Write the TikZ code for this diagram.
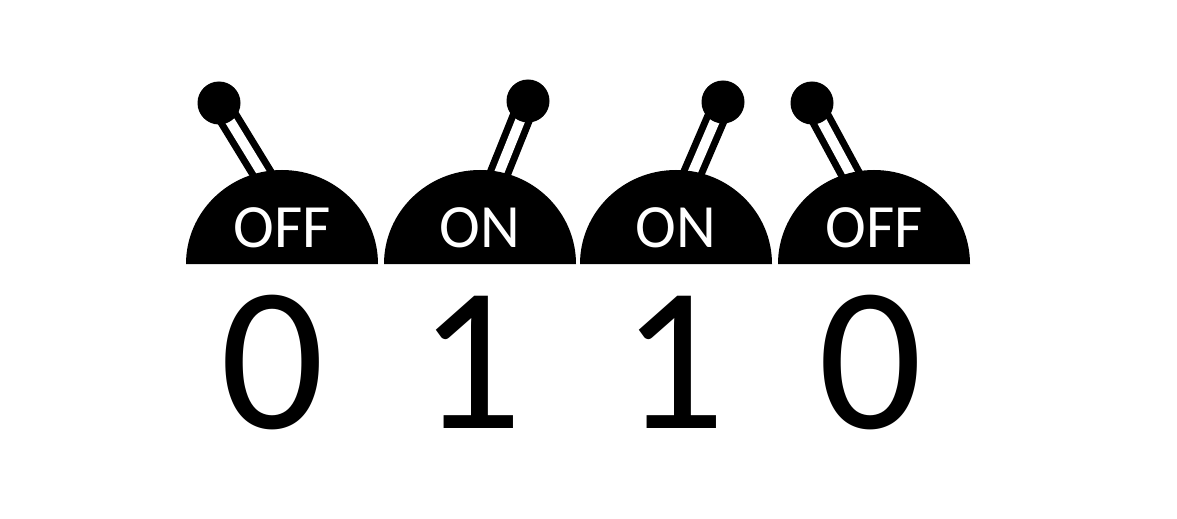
\documentclass[tikz,border=0pt]{standalone}
\usepackage{fontspec}
\setmainfont{Carlito}
\usepackage{tikz}
\usetikzlibrary{calc}

\tikzset{
  lever/.style={line width=0.48cm,black},
  leverslot/.style={line width=0.2cm,white},
  statelabel/.style={text=white,anchor=base,inner sep=0pt,font=\fontsize{35}{40}\selectfont},
  bitlabel/.style={text=black,anchor=base,inner sep=0pt,font=\fontsize{117}{130}\selectfont}
}

\begin{document}
\begin{tikzpicture}[x=0.02cm,y=0.02cm]
\useasboundingbox (0,0) rectangle (1177,518);
%% dome centre / ball / lever foot / state / digit x / digit
\foreach \cx/\bx/\by/\fx/\fy/\state/\dx/\bit [count=\i] in
  {282/219/415/271/330/OFF/273/0, 480/528/417/493/330/ON/471/1,
   676/723/416/686/330/ON/674/1, 874/812/415/858/330/OFF/871/0}
{
  \coordinate (ball\i) at (\bx,\by);
  \coordinate (foot\i) at (\fx,\fy);
  \draw[lever] (foot\i) -- (ball\i);
  \draw[leverslot] (foot\i) -- (ball\i);
  \fill[black] (ball\i) circle (21.5);
  \fill[black] (\cx-96,254) arc[start angle=180,end angle=0,x radius=96,y radius=94] -- cycle;
  \node[statelabel] (sw\i) at (\cx,271) {\state};
  \node[bitlabel] (bit\i) at (\dx,90) {\bit};
}
\end{tikzpicture}
\end{document}
